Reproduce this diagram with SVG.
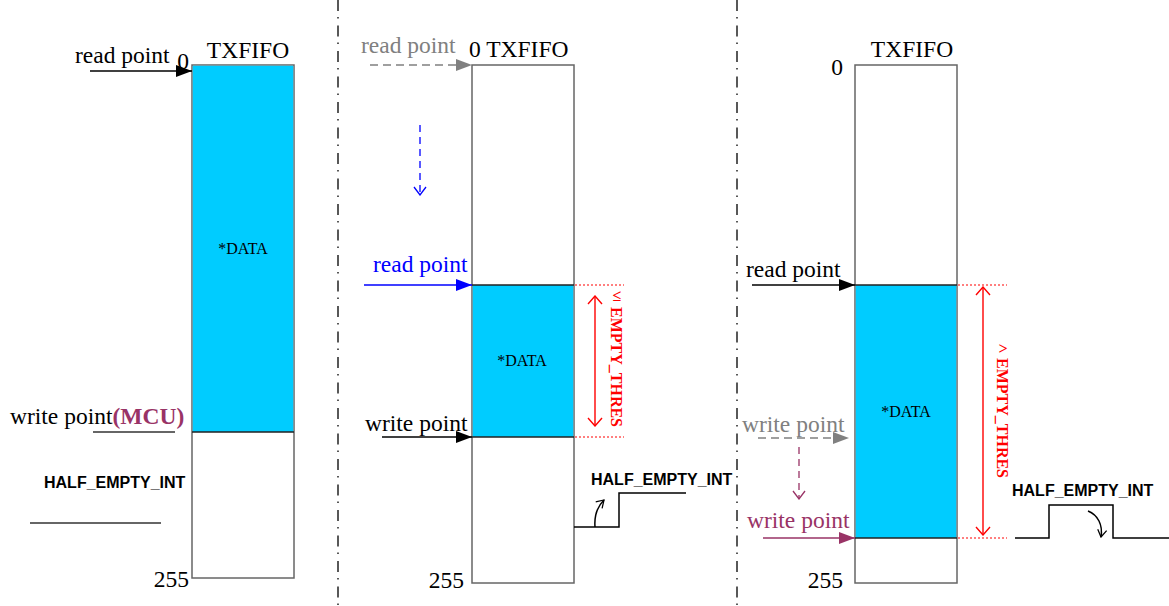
<svg xmlns="http://www.w3.org/2000/svg" width="1169" height="606" viewBox="0 0 1169 606">
<style>
.t{font-family:"Liberation Serif","Times New Roman",serif;font-size:23.5px}
.d{font-family:"Liberation Serif","Times New Roman",serif;font-size:16px;fill:#000}
.h{font-family:"Liberation Sans",Arial,sans-serif;font-size:16px;font-weight:bold;fill:#000}
.r{font-family:"Liberation Serif","Times New Roman",serif;font-size:16px;font-weight:bold;fill:#f00}
.k{fill:#000}.g{fill:#808080}.b{fill:#0000ff}.p{fill:#993366}
.box{fill:#fff;stroke:#666;stroke-width:1.5}
.cy{fill:#00ccff;stroke:none}
.sep{stroke:#222;stroke-width:1.5}
.ln{fill:none;stroke:#000;stroke-width:1.5}
.dot{stroke:#f00;stroke-width:1.2;stroke-dasharray:2 2}
.dd{stroke:#222;stroke-width:1.5;stroke-dasharray:11 6 1.5 7}
</style>
<defs>
<marker id="ab" viewBox="0 0 16 12" refX="16" refY="6" markerWidth="16" markerHeight="12" markerUnits="userSpaceOnUse" orient="auto"><path d="M0,0 L16,6 L0,12 Z" fill="#000"/></marker>
<marker id="ag" viewBox="0 0 16 12" refX="16" refY="6" markerWidth="16" markerHeight="12" markerUnits="userSpaceOnUse" orient="auto"><path d="M0,0 L16,6 L0,12 Z" fill="#808080"/></marker>
<marker id="abl" viewBox="0 0 16 12" refX="16" refY="6" markerWidth="16" markerHeight="12" markerUnits="userSpaceOnUse" orient="auto"><path d="M0,0 L16,6 L0,12 Z" fill="#0000ff"/></marker>
<marker id="ap" viewBox="0 0 16 12" refX="16" refY="6" markerWidth="16" markerHeight="12" markerUnits="userSpaceOnUse" orient="auto"><path d="M0,0 L16,6 L0,12 Z" fill="#993366"/></marker>
<marker id="vb" viewBox="0 0 10 14" refX="9" refY="7" markerWidth="10" markerHeight="14" markerUnits="userSpaceOnUse" orient="auto"><path d="M1,1 L9,7 L1,13" fill="none" stroke="#0000ff" stroke-width="1.3"/></marker>
<marker id="vp" viewBox="0 0 10 14" refX="9" refY="7" markerWidth="10" markerHeight="14" markerUnits="userSpaceOnUse" orient="auto"><path d="M1,1 L9,7 L1,13" fill="none" stroke="#993366" stroke-width="1.3"/></marker>
<marker id="vr" viewBox="0 0 10 16" refX="9" refY="8" markerWidth="10" markerHeight="16" markerUnits="userSpaceOnUse" orient="auto-start-reverse"><path d="M1,1 L9,8 L1,15" fill="none" stroke="#f00" stroke-width="1.4"/></marker>
<marker id="vk" viewBox="0 0 10 12" refX="9" refY="6" markerWidth="9" markerHeight="11" markerUnits="userSpaceOnUse" orient="auto"><path d="M1,1 L9,6 L1,11" fill="none" stroke="#000" stroke-width="1.4"/></marker>
</defs>

<g id="separators">
<line class="dd" x1="338" y1="0" x2="338" y2="606"/>
<line class="dd" x1="737" y1="0" x2="737" y2="606"/>
</g>

<!-- Panel 1 -->
<g id="fifo1">
<rect class="box" x="192" y="65" width="102" height="513"/>
<rect class="cy" x="192.75" y="65.75" width="100.5" height="366.25"/>
<line class="sep" x1="192" y1="432" x2="294" y2="432"/>
<text class="t k" x="248" y="58" text-anchor="middle">TXFIFO</text>
<text class="t k" x="183" y="69" text-anchor="middle">0</text>
<text class="t k" x="189" y="587" text-anchor="end">255</text>
<text class="d" x="243" y="254" text-anchor="middle">*DATA</text>
</g>
<g id="labels1">
<text class="t k" x="75" y="63">read point</text>
<text class="t k" x="10" y="424">write point<tspan class="p" font-weight="bold">(MCU)</tspan></text>
<text class="h" x="44" y="488">HALF_EMPTY_INT</text>
</g>

<!-- Panel 2 -->
<g id="fifo2">
<rect class="box" x="472" y="65" width="102" height="518"/>
<rect class="cy" x="472.75" y="285" width="100.5" height="152"/>
<line class="sep" x1="472" y1="285" x2="574" y2="285"/>
<line class="sep" x1="472" y1="437" x2="574" y2="437"/>
<text class="t k" x="469" y="57">0 TXFIFO</text>
<text class="t k" x="464" y="588" text-anchor="end">255</text>
<text class="d" x="522" y="366" text-anchor="middle">*DATA</text>
</g>
<g id="labels2">
<text class="t g" x="361" y="53">read point</text>
<text class="t b" x="373" y="272">read point</text>
<text class="t k" x="365" y="431">write point</text>
<text class="r" x="617" y="301" text-anchor="middle">≤</text>
<text class="r" transform="translate(611,307) rotate(90)">EMPTY_THRES</text>
<text class="h" x="591" y="485">HALF_EMPTY_INT</text>
</g>

<!-- Panel 3 -->
<g id="fifo3">
<rect class="box" x="855" y="65" width="102" height="518"/>
<rect class="cy" x="855.75" y="285" width="100.5" height="253"/>
<line class="sep" x1="855" y1="285" x2="957" y2="285"/>
<line class="sep" x1="855" y1="538" x2="957" y2="538"/>
<text class="t k" x="912" y="57" text-anchor="middle">TXFIFO</text>
<text class="t k" x="837" y="75" text-anchor="middle">0</text>
<text class="t k" x="843" y="588" text-anchor="end">255</text>
<text class="d" x="906" y="417" text-anchor="middle">*DATA</text>
</g>
<g id="labels3">
<text class="t k" x="746" y="277">read point</text>
<text class="t g" x="742" y="432">write point</text>
<text class="t p" x="747" y="528">write point</text>
<text class="r" x="1003" y="354" text-anchor="middle">&gt;</text>
<text class="r" transform="translate(997,358) rotate(90)">EMPTY_THRES</text>
<text class="h" x="1012" y="496">HALF_EMPTY_INT</text>
</g>

<g id="connectors">
<line class="ln" x1="90" y1="71" x2="192" y2="71" marker-end="url(#ab)"/>
<line x1="93" y1="432" x2="175" y2="432" stroke="#333" stroke-width="1.5"/>
<line x1="30" y1="523" x2="161" y2="523" stroke="#333" stroke-width="1.5"/>

<line x1="370" y1="65" x2="472" y2="65" stroke="#808080" stroke-width="1.5" stroke-dasharray="8 5" marker-end="url(#ag)"/>
<line x1="420" y1="125" x2="420" y2="195" stroke="#0000ff" stroke-width="1.3" stroke-dasharray="7 5" marker-end="url(#vb)"/>
<line x1="364" y1="285" x2="472" y2="285" stroke="#0000ff" stroke-width="1.5" marker-end="url(#abl)"/>
<line class="ln" x1="382" y1="437" x2="472" y2="437" marker-end="url(#ab)"/>
<line class="dot" x1="575" y1="285" x2="624" y2="285"/>
<line class="dot" x1="575" y1="437" x2="624" y2="437"/>
<line x1="595" y1="296" x2="595" y2="426" stroke="#f00" stroke-width="1.4" marker-start="url(#vr)" marker-end="url(#vr)"/>
<polyline class="ln" points="574,527 619,527 619,493 686,493"/>
<path class="ln" d="M595,527 C594,514 598,506 604,500" marker-end="url(#vk)"/>

<line class="ln" x1="752" y1="285" x2="855" y2="285" marker-end="url(#ab)"/>
<line x1="758" y1="438" x2="849" y2="438" stroke="#808080" stroke-width="1.5" stroke-dasharray="8 5" marker-end="url(#ag)"/>
<line x1="799" y1="447" x2="799" y2="499" stroke="#993366" stroke-width="1.3" stroke-dasharray="7 5" marker-end="url(#vp)"/>
<line x1="763" y1="538" x2="855" y2="538" stroke="#993366" stroke-width="1.5" marker-end="url(#ap)"/>
<line class="dot" x1="958" y1="285" x2="1007" y2="285"/>
<line class="dot" x1="958" y1="538" x2="1007" y2="538"/>
<line x1="983" y1="287" x2="983" y2="535" stroke="#f00" stroke-width="1.4" marker-start="url(#vr)" marker-end="url(#vr)"/>
<polyline class="ln" points="1015,538 1049,538 1049,505 1113,505 1113,538 1169,538"/>
<path class="ln" d="M1088,511 C1098,515 1103,525 1101,537" marker-end="url(#vk)"/>
</g>
</svg>
